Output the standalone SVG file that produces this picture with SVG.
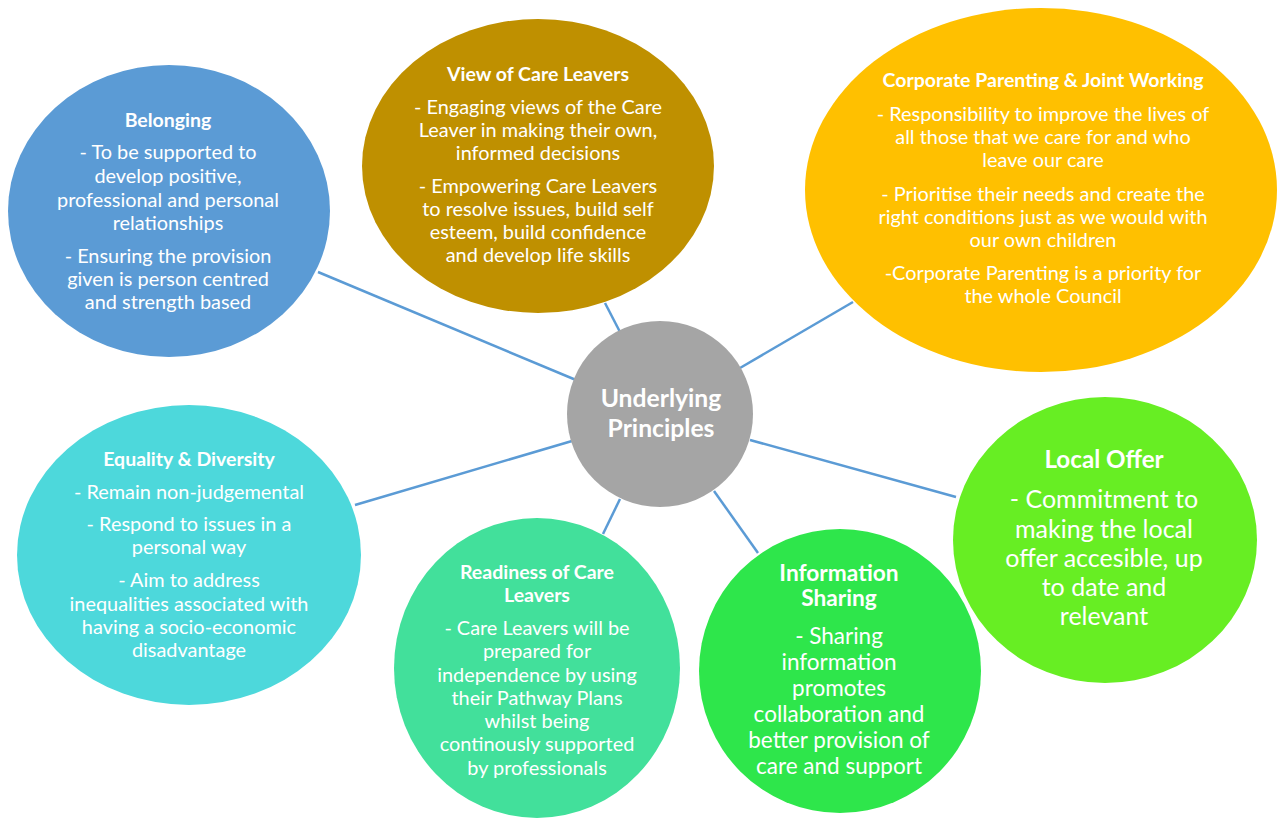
<svg xmlns="http://www.w3.org/2000/svg" width="1277" height="818" viewBox="0 0 1277 818">
  <style>
    text { font-family: Lato, "Open Sans", "Liberation Sans", sans-serif; fill: #ffffff; text-anchor: middle; }
    .t { font-weight: bold; font-size: 19.5px; }
    .b { font-size: 19.9px; }
    .t2 { font-weight: bold; font-size: 22.7px; }
    .b2 { font-size: 22.5px; }
    .t3 { font-weight: bold; font-size: 24.2px; }
    .b3 { font-size: 25px; }
    .hub { font-weight: bold; font-size: 24.7px; }
    .link { stroke: #5B9BD5; stroke-width: 2.5; fill: none; }
  </style>

  <rect width="1277" height="818" fill="#ffffff"/>

  <!-- spokes from the hub to each principle -->
  <g id="connectors">
    <line class="link" x1="318" y1="272" x2="576" y2="380"/>
    <line class="link" x1="605" y1="303" x2="620" y2="332"/>
    <line class="link" x1="853" y1="302" x2="740" y2="368"/>
    <line class="link" x1="355" y1="505" x2="572" y2="441"/>
    <line class="link" x1="750" y1="440" x2="956" y2="497"/>
    <line class="link" x1="620" y1="499" x2="603" y2="534"/>
    <line class="link" x1="714" y1="491" x2="758" y2="553"/>
  </g>

  <g id="belonging">
    <ellipse cx="169" cy="211" rx="161" ry="146" fill="#5B9BD5"/>
    <text class="t" x="168" y="127">Belonging</text>
    <text class="b" x="168" y="159">- To be supported to</text>
    <text class="b" x="168" y="183">develop positive,</text>
    <text class="b" x="168" y="207">professional and personal</text>
    <text class="b" x="168" y="230">relationships</text>
    <text class="b" x="168" y="263">- Ensuring the provision</text>
    <text class="b" x="168" y="286">given is person centred</text>
    <text class="b" x="168" y="309">and strength based</text>
  </g>

  <g id="view-of-care-leavers">
    <ellipse cx="538" cy="166" rx="176" ry="147" fill="#BF9000"/>
    <text class="t" x="538" y="81">View of Care Leavers</text>
    <text class="b" x="538" y="114">- Engaging views of the Care</text>
    <text class="b" x="538" y="137">Leaver in making their own,</text>
    <text class="b" x="538" y="160">informed decisions</text>
    <text class="b" x="538" y="193">- Empowering Care Leavers</text>
    <text class="b" x="538" y="216">to resolve issues, build self</text>
    <text class="b" x="538" y="239">esteem, build confidence</text>
    <text class="b" x="538" y="262">and develop life skills</text>
  </g>

  <g id="corporate-parenting">
    <ellipse cx="1041" cy="190" rx="236" ry="182" fill="#FFC000"/>
    <text class="t" x="1043" y="87">Corporate Parenting &amp; Joint Working</text>
    <text class="b" x="1043" y="121">- Responsibility to improve the lives of</text>
    <text class="b" x="1043" y="144">all those that we care for and who</text>
    <text class="b" x="1043" y="167">leave our care</text>
    <text class="b" x="1043" y="201">- Prioritise their needs and create the</text>
    <text class="b" x="1043" y="224">right conditions just as we would with</text>
    <text class="b" x="1043" y="247">our own children</text>
    <text class="b" x="1043" y="280">-Corporate Parenting is a priority for</text>
    <text class="b" x="1043" y="303">the whole Council</text>
  </g>

  <g id="underlying-principles">
    <circle cx="660" cy="414" r="93" fill="#A5A5A5"/>
    <text class="hub" x="661" y="407">Underlying</text>
    <text class="hub" x="661" y="437">Principles</text>
  </g>

  <g id="equality-diversity">
    <ellipse cx="189" cy="555" rx="172" ry="150" fill="#4DD8DB"/>
    <text class="t" x="189" y="466">Equality &amp; Diversity</text>
    <text class="b" x="189" y="499">- Remain non-judgemental</text>
    <text class="b" x="189" y="531">- Respond to issues in a</text>
    <text class="b" x="189" y="554">personal way</text>
    <text class="b" x="189" y="587">- Aim to address</text>
    <text class="b" x="189" y="611">inequalities associated with</text>
    <text class="b" x="189" y="634">having a socio-economic</text>
    <text class="b" x="189" y="657">disadvantage</text>
  </g>

  <g id="readiness">
    <ellipse cx="537" cy="668" rx="143" ry="150" fill="#42E09B"/>
    <text class="t" x="537" y="579">Readiness of Care</text>
    <text class="t" x="537" y="602">Leavers</text>
    <text class="b" x="537" y="635">- Care Leavers will be</text>
    <text class="b" x="537" y="658">prepared for</text>
    <text class="b" x="537" y="682">independence by using</text>
    <text class="b" x="537" y="705">their Pathway Plans</text>
    <text class="b" x="537" y="728">whilst being</text>
    <text class="b" x="537" y="751">continously supported</text>
    <text class="b" x="537" y="775">by professionals</text>
  </g>

  <g id="information-sharing">
    <ellipse cx="840" cy="671" rx="141" ry="142" fill="#2EE64B"/>
    <text class="t2" x="839" y="581">Information</text>
    <text class="t2" x="839" y="606">Sharing</text>
    <text class="b2" x="839" y="644">- Sharing</text>
    <text class="b2" x="839" y="670">information</text>
    <text class="b2" x="839" y="696">promotes</text>
    <text class="b2" x="839" y="722">collaboration and</text>
    <text class="b2" x="839" y="748">better provision of</text>
    <text class="b2" x="839" y="774">care and support</text>
  </g>

  <g id="local-offer">
    <ellipse cx="1105" cy="540" rx="152" ry="143" fill="#67EE23"/>
    <text class="t3" x="1104" y="468">Local Offer</text>
    <text class="b3" x="1104" y="508">- Commitment to</text>
    <text class="b3" x="1104" y="538">making the local</text>
    <text class="b3" x="1104" y="567">offer accesible, up</text>
    <text class="b3" x="1104" y="596">to date and</text>
    <text class="b3" x="1104" y="625">relevant</text>
  </g>
</svg>
